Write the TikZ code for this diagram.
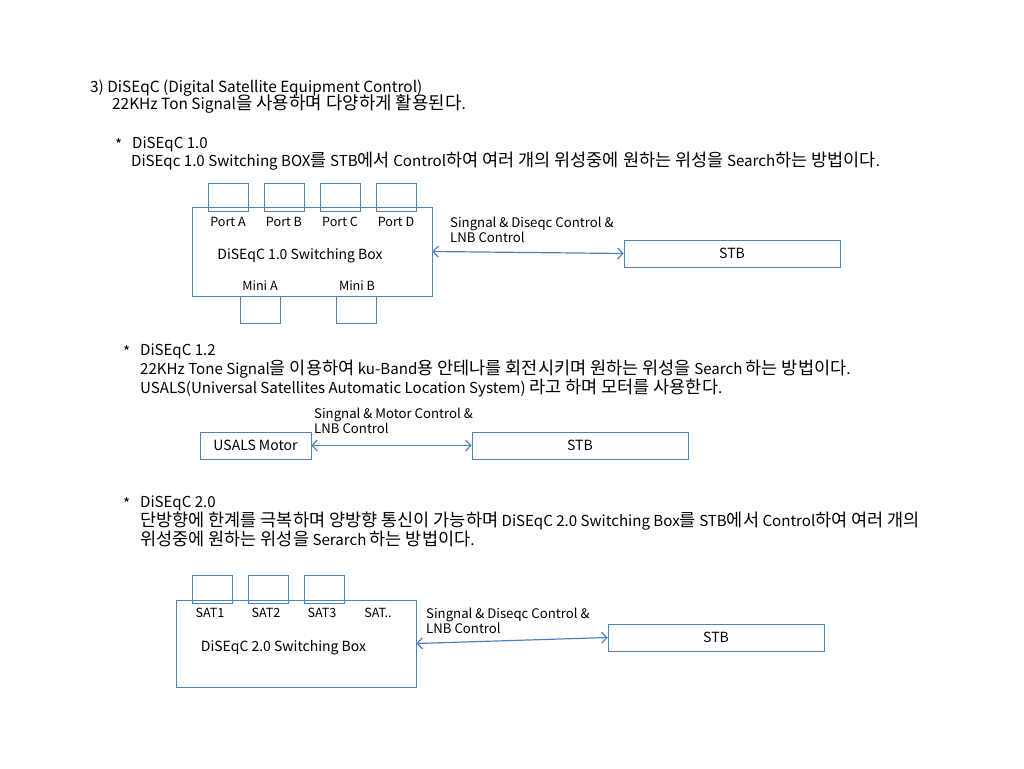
\documentclass[tikz,border=0pt]{standalone}
\usepackage{fontspec}
\setmainfont{Noto Sans CJK KR}
\newfontfamily\hangulfont{Noto Sans CJK KR}[Scale=1.16]
\usetikzlibrary{positioning, arrows.meta}
\definecolor{boxblue}{RGB}{79,129,189}
% Hangul runs set a little larger than the Latin text
\newcommand{\kr}[1]{{\hangulfont #1}}

\begin{document}
\begin{tikzpicture}[
    x=1pt, y=-1pt,
    % Styles
    heading/.style={anchor=base west, inner sep=0pt, font=\fontsize{15.4}{18}\selectfont},
    bodytext/.style={anchor=base west, inner sep=0pt, font=\fontsize{15.1}{18}\selectfont},
    swbox/.style={draw=boxblue, line width=1pt, minimum width=240pt, minimum height=89pt, inner sep=0pt},
    stbbox/.style={draw=boxblue, line width=1pt, minimum width=216pt, minimum height=27pt, inner sep=0pt, font=\fontsize{14}{16}\selectfont},
    port/.style={draw=boxblue, line width=1pt, minimum width=40pt, minimum height=28pt, inner sep=0pt},
    portlabel/.style={inner sep=0pt, font=\fontsize{12.6}{14}\selectfont},
    boxtitle/.style={inner sep=0pt, font=\fontsize{14}{16}\selectfont},
    note/.style={anchor=west, align=left, inner sep=0pt, font=\fontsize{13.2}{15}\selectfont},
    link/.style={{Straight Barb[length=5pt,width=11pt]}-{Straight Barb[length=5pt,width=11pt]}, boxblue, line width=1.2pt},
]
\useasboundingbox (0,0) rectangle (1024,768);

% Title
\node[heading] (title) at (90,92) {3) DiSEqC (Digital Satellite Equipment Control)};
\node[heading] (intro) at (112,109) {22KHz Ton Signal\kr{을 사용하며 다양하게 활용된다}.};

% DiSEqC 1.0
\node[bodytext] (star10) at (115,150) {*};
\node[bodytext] (head10) at (132,148) {DiSEqC 1.0};
\node[bodytext] (desc10) at (131,166) {DiSEqc 1.0 Switching BOX\kr{를} STB\kr{에서} Control\kr{하여 여러 개의 위성중에 원하는 위성을} Search\kr{하는 방법이다}.};

\node[swbox] (sw10) at (312,251.5) {};
\node[port] (porta) at (228,197.5) {};
\node[port] (portb) at (284,197.5) {};
\node[port] (portc) at (340,197.5) {};
\node[port] (portd) at (396,197.5) {};
\node[portlabel] (porta-label) at (228,222) {Port A};
\node[portlabel] (portb-label) at (284,222) {Port B};
\node[portlabel] (portc-label) at (340,222) {Port C};
\node[portlabel] (portd-label) at (396,222) {Port D};
\node[boxtitle] (sw10-title) at (300,256) {DiSEqC 1.0 Switching Box};
\node[port, minimum height=27pt] (minia) at (260,309.5) {};
\node[port, minimum height=27pt] (minib) at (356,309.5) {};
\node[portlabel] (minia-label) at (260,286) {Mini A};
\node[portlabel] (minib-label) at (357,286) {Mini B};

\node[stbbox] (stb10) at (732,253.5) {STB};
\draw[link] (sw10.east) -- (stb10.west);
\node[note] (note10) at (450,229.5) {Singnal \& Diseqc Control \&\\LNB Control};

% DiSEqC 1.2
\node[bodytext] (star12) at (123,357) {*};
\node[bodytext] (head12) at (140,355) {DiSEqC 1.2};
\node[bodytext] (desc12a) at (140,374) {22KHz Tone Signal\kr{을 이용하여} ku-Band\kr{용 안테나를 회전시키며 원하는 위성을} Search \kr{하는 방법이다}.};
\node[bodytext] (desc12b) at (140,393) {USALS(Universal Satellites Automatic Location System) \kr{라고 하며 모터를 사용한다}.};

\node[stbbox, minimum width=111pt] (motor) at (255.5,445.5) {USALS Motor};
\node[stbbox] (stb12) at (580,445.5) {STB};
\draw[link] (motor.east) -- (stb12.west);
\node[note] (note12) at (314,421) {Singnal \& Motor Control \&\\LNB Control};

% DiSEqC 2.0
\node[bodytext] (star20) at (123,509) {*};
\node[bodytext] (head20) at (140,507) {DiSEqC 2.0};
\node[bodytext] (desc20a) at (140,526) {\kr{단방향에 한계를 극복하며 양방향 통신이 가능하며} DiSEqC 2.0 Switching Box\kr{를} STB\kr{에서} Control\kr{하여 여러 개의}};
\node[bodytext] (desc20b) at (140,545) {\kr{위성중에 원하는 위성을} Serarch \kr{하는 방법이다}.};

\node[swbox, minimum height=87pt] (sw20) at (296,643.5) {};
\node[port] (sat1) at (212,589.5) {};
\node[port] (sat2) at (268,589.5) {};
\node[port] (sat3) at (324,589.5) {};
\node[portlabel] (sat1-label) at (210,613) {SAT1};
\node[portlabel] (sat2-label) at (266,613) {SAT2};
\node[portlabel] (sat3-label) at (322,613) {SAT3};
\node[portlabel] (satn-label) at (378,613) {SAT..};
\node[boxtitle] (sw20-title) at (283.5,648) {DiSEqC 2.0 Switching Box};

\node[stbbox] (stb20) at (716,637.5) {STB};
\draw[link] (sw20.east) -- (stb20.west);
\node[note] (note20) at (426,621) {Singnal \& Diseqc Control \&\\LNB Control};

\end{tikzpicture}
\end{document}
